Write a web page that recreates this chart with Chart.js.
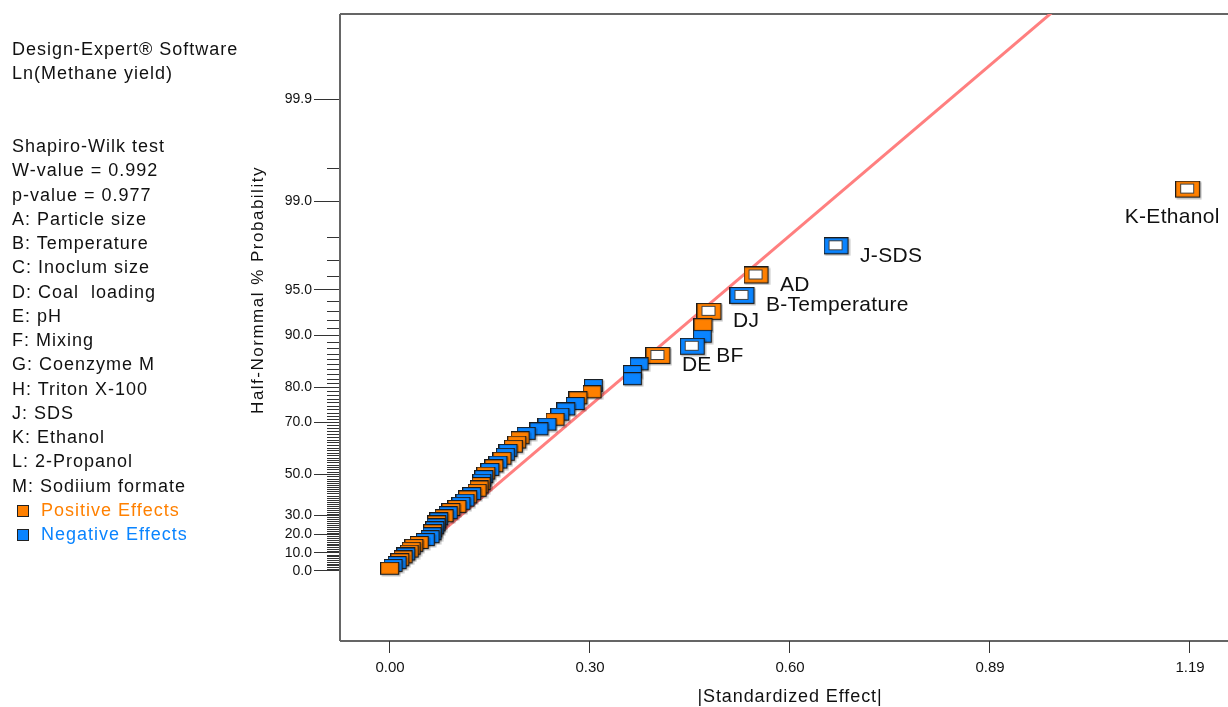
<!DOCTYPE html>
<html>
<head>
<meta charset="utf-8">
<script src="https://cdn.jsdelivr.net/npm/chart.js@4.4.1/dist/chart.umd.min.js"></script>
<style>
  html, body { margin: 0; padding: 0; background: #fff; overflow: hidden; }
  #wrap { position: relative; width: 1228px; height: 707px; }
  #c { position: absolute; left: 0; top: 0; }
  #info {
    position: absolute; left: 12px; top: 37px;
    font: 18px "Liberation Sans", Arial, sans-serif; line-height: 24.25px;
    letter-spacing: 1px; color: #111; white-space: pre;
  }
  #info .sq {
    display: inline-block; width: 10px; height: 10px; border: 1px solid #222;
    margin: 0 12px 0 5px; vertical-align: -1px;
  }
</style>
</head>
<body>
<div id="wrap">
  <canvas id="c" width="1228" height="707"></canvas>
  <div id="info">Design-Expert® Software
Ln(Methane yield)


Shapiro-Wilk test
W-value = 0.992
p-value = 0.977
A: Particle size
B: Temperature
C: Inoclum size
D: Coal  loading
E: pH
F: Mixing
G: Coenzyme M
H: Triton X-100
J: SDS
K: Ethanol
L: 2-Propanol
M: Sodiium formate
<span class="sq" style="background:#ff8000"></span><span style="color:#ff8000">Positive Effects</span>
<span class="sq" style="background:#0a84ff"></span><span style="color:#0a84ff">Negative Effects</span></div>
</div>
<script>
// effects, largest first: |standardized effect|, half-normal % probability, sign, label
const effectValue = [1.188, 0.665, 0.546, 0.525, 0.476, 0.467, 0.466, 0.451, 0.400, 0.372,
  0.362, 0.362, 0.304, 0.302, 0.281, 0.277, 0.263, 0.254, 0.247, 0.235,
  0.223, 0.204, 0.195, 0.190, 0.185, 0.177, 0.173, 0.168, 0.162, 0.156,
  0.150, 0.144, 0.141, 0.138, 0.137, 0.134, 0.131, 0.123, 0.117, 0.113,
  0.107, 0.101, 0.092, 0.088, 0.082, 0.074, 0.071, 0.070, 0.068, 0.065,
  0.064, 0.061, 0.054, 0.045, 0.037, 0.033, 0.030, 0.025, 0.021, 0.016,
  0.012, 0.006, 0.001];
const effectProb = [99.21, 97.62, 96.03, 94.44, 92.86, 91.27, 89.68, 88.10, 86.51, 84.92,
  83.33, 81.75, 80.16, 78.57, 76.98, 75.40, 73.81, 72.22, 70.63, 69.05,
  67.46, 65.87, 64.29, 62.70, 61.11, 59.52, 57.94, 56.35, 54.76, 53.17,
  51.59, 50.00, 48.41, 46.83, 45.24, 43.65, 42.06, 40.48, 38.89, 37.30,
  35.71, 34.13, 32.54, 30.95, 29.37, 27.78, 26.19, 24.60, 23.02, 21.43,
  19.84, 18.25, 16.67, 15.08, 13.49, 11.90, 10.32, 8.73, 7.14, 5.56,
  3.97, 2.38, 0.79];
const effectSign = ['+','-','+','-','+','+','-','-','+','-',
  '-','-','-','+','+','-','-','-','+','-',
  '-','-','+','+','+','-','-','+','-','+',
  '-','+','-','-','+','+','+','-','+','-',
  '-','+','+','-','+','-','+','-','-','+',
  '-','-','-','+','+','+','+','-','+','+',
  '-','-','+'];
const effectLabel = ['K-Ethanol','J-SDS','AD','B-Temperature','DJ','','','BF','DE'];

// fitted half-normal line
const fitX = [0.009, 1.0];
const fitZ = [0, 3.957];

// axes
const xTickValues = [0, 0.2975, 0.595, 0.8925, 1.19];
const xTickLabels = ['0.00', '0.30', '0.60', '0.89', '1.19'];
const yMajorTicks = [0, 10, 20, 30, 50, 70, 80, 90, 95, 99, 99.9];
const yTickLabels = ['0.0', '10.0', '20.0', '30.0', '50.0', '70.0', '80.0', '90.0', '95.0', '99.0', '99.9'];

const ORANGE = '#ff8000';
const BLUE = '#0a84ff';

// inverse normal cdf (Acklam)
function probit(p) {
  const a = [-39.69683028665376, 220.9460984245205, -275.9285104469687, 138.3577518672690, -30.66479806614716, 2.506628277459239];
  const b = [-54.47609879822406, 161.5858368580409, -155.6989798598866, 66.80131188771972, -13.28068155288572];
  const c = [-0.007784894002430293, -0.3223964580411365, -2.400758277161838, -2.549732539343734, 4.374664141464968, 2.938163982698783];
  const d = [0.007784695709041462, 0.3224671290700398, 2.445134137142996, 3.754408661907416];
  const pl = 0.02425;
  let q, r;
  if (p < pl) {
    q = Math.sqrt(-2 * Math.log(p));
    return (((((c[0]*q+c[1])*q+c[2])*q+c[3])*q+c[4])*q+c[5]) / ((((d[0]*q+d[1])*q+d[2])*q+d[3])*q+1);
  }
  if (p <= 1 - pl) {
    q = p - 0.5; r = q * q;
    return (((((a[0]*r+a[1])*r+a[2])*r+a[3])*r+a[4])*r+a[5])*q / (((((b[0]*r+b[1])*r+b[2])*r+b[3])*r+b[4])*r+1);
  }
  q = Math.sqrt(-2 * Math.log(1 - p));
  return -(((((c[0]*q+c[1])*q+c[2])*q+c[3])*q+c[4])*q+c[5]) / ((((d[0]*q+d[1])*q+d[2])*q+d[3])*q+1);
}
function halfNormal(pct) { return probit(0.5 + pct / 200); }

// marker images
function makeMarker(fill, hollow) {
  const w = hollow ? 25 : 19, h = hollow ? 17 : 13;
  const c = document.createElement('canvas');
  c.width = w + 2; c.height = h + 2;
  const g = c.getContext('2d');
  g.fillStyle = 'rgba(0,0,0,0.22)';
  g.fillRect(1.5, 1.5, w, h);
  g.fillStyle = fill;
  g.fillRect(0.5, 0.5, w - 1, h - 1);
  g.strokeStyle = '#1c1c1c';
  g.lineWidth = 1.2;
  g.strokeRect(0.5, 0.5, w - 1, h - 1);
  if (hollow) {
    const iw = 13, ih = 9;
    const ix = Math.round((w - iw) / 2) - 0.5, iy = Math.round((h - ih) / 2) - 0.5;
    g.fillStyle = '#fff';
    g.fillRect(ix, iy, iw, ih);
    g.strokeStyle = '#444';
    g.lineWidth = 1;
    g.strokeRect(ix, iy, iw, ih);
  }
  return c;
}
const markers = {
  '+': makeMarker(ORANGE, false), '-': makeMarker(BLUE, false),
  '+h': makeMarker(ORANGE, true), '-h': makeMarker(BLUE, true)
};

const points = effectValue.map((x, i) => ({ x: x, y: halfNormal(effectProb[i]) }));

const framePlugin = {
  id: 'frame',
  beforeDatasetsDraw(chart) {
    const { ctx, chartArea: a } = chart;
    const ys = chart.scales.y;
    ctx.save();
    // minor probability ticks
    ctx.strokeStyle = '#333';
    ctx.lineWidth = 1;
    const minor = [];
    for (let p = 1; p <= 98; p++) if (yMajorTicks.indexOf(p) < 0) minor.push(p);
    minor.push(99.5);
    minor.forEach(p => {
      const y = Math.round(ys.getPixelForValue(halfNormal(p))) + 0.5;
      ctx.beginPath(); ctx.moveTo(a.left - 13, y); ctx.lineTo(a.left, y); ctx.stroke();
    });
    // frame
    ctx.strokeStyle = '#333';
    ctx.lineWidth = 1.5;
    ctx.beginPath();
    ctx.moveTo(a.right, a.top); ctx.lineTo(a.left, a.top);
    ctx.moveTo(a.left, a.bottom); ctx.lineTo(a.right, a.bottom);
    ctx.stroke();
    ctx.strokeStyle = '#666';
    ctx.lineWidth = 2;
    ctx.beginPath(); ctx.moveTo(a.left, a.top); ctx.lineTo(a.left, a.bottom); ctx.stroke();
    ctx.restore();
  },
  afterDraw(chart) {
    const { ctx, chartArea: a } = chart;
    ctx.save();
    ctx.fillStyle = '#111';
    ctx.textAlign = 'center';
    ctx.textBaseline = 'middle';
    ctx.font = '18px "Liberation Sans", Arial, sans-serif';
    ctx.letterSpacing = '0.9px';
    ctx.fillText('|Standardized Effect|', 790, 697);
    ctx.translate(258, 290);
    ctx.rotate(-Math.PI / 2);
    ctx.font = '17px "Liberation Sans", Arial, sans-serif';
    ctx.letterSpacing = '1.5px';
    ctx.fillText('Half-Normmal % Probability', 0, 0);
    ctx.restore();

    // effect labels
    const meta = chart.getDatasetMeta(0);
    ctx.save();
    ctx.font = '21px "Liberation Sans", Arial, sans-serif';
    ctx.letterSpacing = '0.3px';
    ctx.fillStyle = '#111';
    ctx.textBaseline = 'middle';
    effectLabel.forEach((lab, i) => {
      if (!lab) return;
      const pt = meta.data[i];
      const w = ctx.measureText(lab).width;
      if (pt.x + 23 + w > a.right - 2) {
        ctx.textAlign = 'right';
        ctx.fillText(lab, pt.x + 31, pt.y + 27);
      } else {
        ctx.textAlign = 'left';
        ctx.fillText(lab, pt.x + 23, pt.y + 9);
      }
    });
    ctx.restore();
  }
};

new Chart(document.getElementById('c'), {
  type: 'scatter',
  data: {
    datasets: [
      {
        data: points,
        order: 0,
        pointStyle: ctx => markers[effectSign[ctx.dataIndex] + (effectLabel[ctx.dataIndex] ? 'h' : '')],
        pointRadius: 9,
        pointHoverRadius: 9
      },
      {
        type: 'line',
        order: 1,
        data: fitX.map((x, i) => ({ x: x, y: fitZ[i] })),
        borderColor: '#ff7f7f',
        borderWidth: 3,
        pointRadius: 0,
        fill: false
      }
    ]
  },
  options: {
    responsive: false,
    animation: false,
    events: [],
    layout: { autoPadding: false, padding: { left: 260, top: 14, right: 0, bottom: 0 } },
    plugins: { legend: { display: false }, tooltip: { enabled: false } },
    scales: {
      x: {
        type: 'linear',
        min: -0.07437,
        max: 1.24653,
        afterBuildTicks: s => { s.ticks = xTickValues.map(v => ({ value: v })); },
        afterFit: s => { s.height = 66; s.paddingLeft = 0; s.paddingRight = 0; },
        border: { display: false },
        grid: { drawOnChartArea: false, tickLength: 12, color: '#333', lineWidth: 1 },
        ticks: {
          autoSkip: false, maxRotation: 0, padding: 6, color: '#111',
          font: { family: '"Liberation Sans", Arial, sans-serif', size: 15 },
          callback: (v, i) => xTickLabels[i]
        }
      },
      y: {
        type: 'linear',
        min: -0.4906,
        max: 3.885,
        afterBuildTicks: s => { s.ticks = yMajorTicks.map(p => ({ value: halfNormal(p) })); },
        afterFit: s => { s.width = 80; s.paddingTop = 0; s.paddingBottom = 0; },
        border: { display: false },
        grid: { drawOnChartArea: false, tickLength: 26, color: '#333', lineWidth: 1 },
        ticks: {
          autoSkip: false, padding: 2, color: '#111',
          font: { family: '"Liberation Sans", Arial, sans-serif', size: 14 },
          callback: (v, i) => yTickLabels[i]
        }
      }
    }
  },
  plugins: [framePlugin]
});
</script>
</body>
</html>
